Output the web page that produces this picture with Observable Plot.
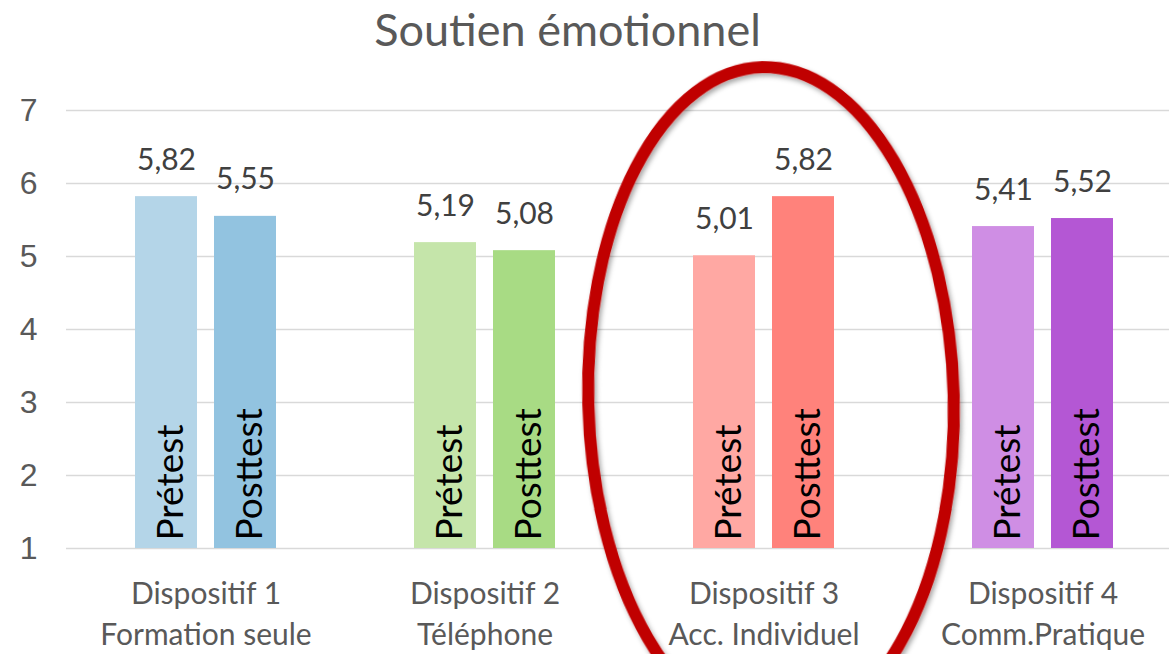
<!DOCTYPE html>
<html>
<head>
<meta charset="utf-8">
<script src="https://cdn.jsdelivr.net/npm/d3@7"></script>
<script src="https://cdn.jsdelivr.net/npm/@observablehq/plot@0.6"></script>
<style>
  html, body { margin: 0; padding: 0; background: #fff; overflow: hidden; }
  #wrap { position: relative; width: 1169px; height: 654px; }
  #title { position: absolute; left: 0; top: 7px; width: 1135px; text-align: center;
           font-family: Lato, sans-serif; font-size: 45px; line-height: 45px; color: #595959; }
  #chart { position: absolute; left: 0; top: 0; }
</style>
</head>
<body>
<div id="wrap">
  <div id="chart"></div>
  <div id="title">Soutien émotionnel</div>
</div>
<script>
// ---- Data ----
const dispositifs = ["Dispositif 1", "Dispositif 2", "Dispositif 3", "Dispositif 4"];
const sousTitres = ["Formation seule", "Téléphone", "Acc. Individuel", "Comm.Pratique"];
const tests = ["Prétest", "Posttest"];
const pretest = [5.82, 5.19, 5.01, 5.41];
const posttest = [5.55, 5.08, 5.82, 5.52];
const yTicks = [1, 2, 3, 4, 5, 6, 7];
const highlighted = "Dispositif 3";

// ---- Style ----
const palettePre = ["#B4D5E8", "#C5E5AA", "#FFA8A3", "#CF8EE4"];
const palettePost = ["#92C3E0", "#A8DB84", "#FF827B", "#B457D4"];

const rows = [];
dispositifs.forEach((d, i) => {
  rows.push({dispositif: d, test: tests[0], value: pretest[i], key: d + "|" + tests[0]});
  rows.push({dispositif: d, test: tests[1], value: posttest[i], key: d + "|" + tests[1]});
});
const colorDomain = rows.map(r => r.key);
const colorRange = dispositifs.flatMap((d, i) => [palettePre[i], palettePost[i]]);
const subtitleOf = Object.fromEntries(dispositifs.map((d, i) => [d, sousTitres[i]]));
const fmt = v => v.toFixed(2).replace(".", ",");

const chart = Plot.plot({
  width: 1169,
  height: 654,
  marginTop: 110,
  marginBottom: 106,
  marginLeft: 65,
  marginRight: 0,
  style: {background: "transparent", overflow: "visible"},
  fx: {domain: dispositifs, range: [65.2, 1183.6], padding: 0},
  x: {domain: tests, paddingInner: 0.2125, paddingOuter: 0.854, axis: null},
  y: {domain: [1, 7]},
  color: {domain: colorDomain, range: colorRange},
  marks: [
    Plot.gridY(yTicks, {stroke: "#d9d9d9", strokeOpacity: 1, strokeWidth: 1.5}),
    Plot.axisY(yTicks, {tickSize: 0, tickPadding: 29, fontSize: 32, fontFamily: "Liberation Sans, Arial, sans-serif",
      fill: "#595959", label: null, tickFormat: d => String(d)}),
    Plot.axisFx({anchor: "bottom", tickSize: 0, tickPadding: 27, fontSize: 30, lineHeight: 1.35, lineAnchor: "top",
      fontFamily: "Lato, sans-serif", fill: "#595959", label: null,
      tickFormat: d => d + "\n" + subtitleOf[d]}),
    Plot.barY(rows, {fx: "dispositif", x: "test", y1: 1, y2: "value", fill: "key"}),
    Plot.text(rows, {fx: "dispositif", x: "test", y: "value", text: d => fmt(d.value),
      lineAnchor: "bottom", dy: -27, fontSize: 30, fontFamily: "Lato, sans-serif", fill: "#404040"}),
    Plot.text(rows, {fx: "dispositif", x: "test", y: 1, text: "test", rotate: -90,
      textAnchor: "start", lineAnchor: "middle", dy: -8, dx: 5, fontSize: 37,
      fontFamily: "Lato, sans-serif", fill: "#000"})
  ]
});
document.getElementById("chart").appendChild(chart);

// ---- Highlight ellipse around the selected dispositif (positioned through Plot's scales) ----
const fx = chart.scale("fx"), ys = chart.scale("y");
const cx = fx.apply(highlighted) + fx.bandwidth / 2 + 7.5;
const cy = ys.apply(3.03);
const ry = ys.apply(1) - ys.apply(1 + 4.56);
const rx = 182.75;
const svg = d3.select(chart);
const defs = svg.append("defs");
defs.append("filter").attr("id", "shadow").attr("x", "-20%").attr("y", "-20%").attr("width", "140%").attr("height", "140%")
  .append("feDropShadow").attr("dx", 2).attr("dy", 3).attr("stdDeviation", 2.5)
  .attr("flood-color", "#000").attr("flood-opacity", 0.35);
svg.append("ellipse")
  .attr("cx", cx).attr("cy", cy).attr("rx", rx).attr("ry", ry)
  .attr("transform", `rotate(-1.5 ${cx} ${cy})`)
  .attr("fill", "none").attr("stroke", "#C00000").attr("stroke-width", 12)
  .attr("filter", "url(#shadow)");
</script>
</body>
</html>
